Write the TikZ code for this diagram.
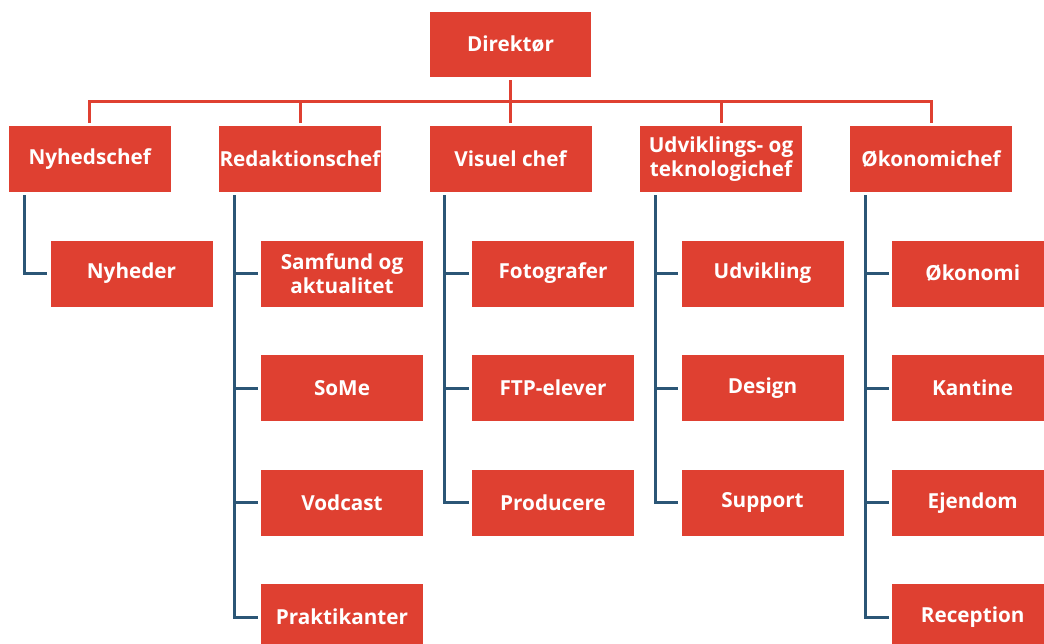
\documentclass[tikz,border=0pt]{standalone}
\usepackage{fontspec}
\setmainfont{Open Sans}
\definecolor{boxred}{RGB}{223,64,49}
\definecolor{lineblue}{RGB}{43,86,118}
\begin{document}
\begin{tikzpicture}[x=1pt,y=-1pt,
  box/.style={fill=boxred,draw=none,minimum width=162pt,minimum height=66pt,inner sep=0pt,
    text=white,align=center,font=\fontsize{20.7}{24.5}\selectfont\bfseries},
  redline/.style={draw=boxred,line width=3pt},
  blueline/.style={draw=lineblue,line width=3pt}]
\useasboundingbox (0,0) rectangle (1044,643);
\clip (0,0) rectangle (1044,643);
% top
\node[box,minimum width=161pt,minimum height=65pt] (dir) at (510.5,44.3) {Direktør};
% level 1
\node[box] (n1) at (89.7,159) {Nyhedschef};
\node[box] (n2) at (300,159) {Redaktionschef};
\node[box] (n3) at (510.5,159) {Visuel chef};
\node[box] (n4) at (721,159) {Udviklings- og\\teknologichef};
\node[box] (n5) at (931,159) {Økonomichef};
% level 2
\node[box] (a1) at (131.5,273.5) {Nyheder};
\node[box] (b1) at (342,273.5) {Samfund og\\aktualitet};
\node[box] (b2) at (342,388) {SoMe};
\node[box] (b3) at (342,502.7) {Vodcast};
\node[box] (b4) at (342,617) {Praktikanter};
\node[box] (c1) at (553,273.5) {Fotografer};
\node[box] (c2) at (553,388) {FTP-elever};
\node[box] (c3) at (553,502.7) {Producere};
\node[box] (d1) at (762.5,273.5) {Udvikling};
\node[box] (d2) at (762.5,388) {Design};
\node[box] (d3) at (762.5,502.7) {Support};
\node[box] (e1) at (972.7,273.5) {Økonomi};
\node[box] (e2) at (972.7,388) {Kantine};
\node[box] (e3) at (972.7,502.7) {Ejendom};
\node[box] (e4) at (972.7,617) {Reception};
% red bus
\coordinate (bus) at (510.5,101.5);
\draw[redline] ([yshift=3pt]n1.north) |- (bus -| n5.north) -- ([yshift=3pt]n5.north);
\draw[redline] ([yshift=-3pt]dir.south) -- (bus -| dir.south);
\draw[redline] ([yshift=3pt]n2.north) -- (bus -| n2.north);
\draw[redline] ([yshift=3pt]n3.north) -- (bus -| n3.north);
\draw[redline] ([yshift=3pt]n4.north) -- (bus -| n4.north);
% blue trees
\coordinate (t1) at ([xshift=15.5pt,yshift=-3pt]n1.south west);
\coordinate (t2) at ([xshift=15.5pt,yshift=-3pt]n2.south west);
\coordinate (t3) at ([xshift=15.5pt,yshift=-3pt]n3.south west);
\coordinate (t4) at ([xshift=15.5pt,yshift=-3pt]n4.south west);
\coordinate (t5) at ([xshift=15.5pt,yshift=-3pt]n5.south west);
\draw[blueline] (t1) |- ([xshift=-3pt]a1.west);
\draw[blueline] (t2) |- ([xshift=-3pt]b4.west);
\foreach \c in {b1,b2,b3} \draw[blueline] (t2 |- \c.west) -- ([xshift=-3pt]\c.west);
\draw[blueline] (t3) |- ([xshift=-3pt]c3.west);
\foreach \c in {c1,c2} \draw[blueline] (t3 |- \c.west) -- ([xshift=-3pt]\c.west);
\draw[blueline] (t4) |- ([xshift=-3pt]d3.west);
\foreach \c in {d1,d2} \draw[blueline] (t4 |- \c.west) -- ([xshift=-3pt]\c.west);
\draw[blueline] (t5) |- ([xshift=-3pt]e4.west);
\foreach \c in {e1,e2,e3} \draw[blueline] (t5 |- \c.west) -- ([xshift=-3pt]\c.west);
\end{tikzpicture}
\end{document}
